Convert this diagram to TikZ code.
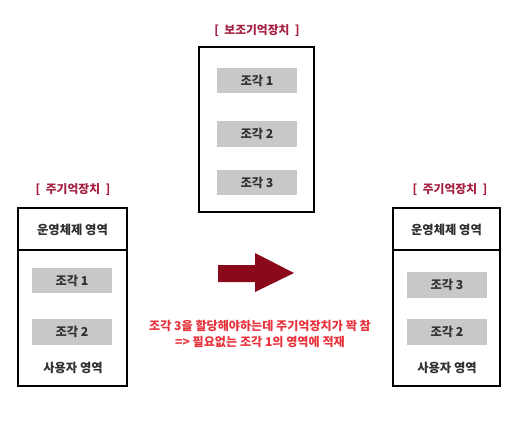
\documentclass[tikz,border=0pt]{standalone}
\usepackage{fontspec}
\newfontfamily\kr{Noto Sans CJK KR}
\definecolor{titlered}{HTML}{A52040}
\definecolor{notered}{HTML}{E8323C}
\definecolor{arrowred}{HTML}{8A0A1C}
\definecolor{piecegray}{HTML}{C8C8C8}
\definecolor{textgray}{HTML}{303030}
\tikzset{
    membox/.style={draw, line width=1.6pt, inner sep=0pt},
    piece/.style={fill=piecegray, minimum width=80pt, minimum height=25.5pt, inner sep=0pt, text=textgray, font=\kr\bfseries\fontsize{12.3}{14}\selectfont},
    areatext/.style={text=textgray, font=\kr\bfseries\fontsize{12.3}{14}\selectfont},
    titletext/.style={text=titlered, font=\kr\bfseries\fontsize{11.8}{14}\selectfont},
    notetext/.style={text=notered, font=\kr\bfseries\fontsize{12.1}{16}\selectfont, align=center}
}
\begin{document}
\begin{tikzpicture}[x=1pt, y=-1pt]
    \useasboundingbox[fill=white] (0,0) rectangle (529,428);

    % secondary storage
    \node (aux) [membox, minimum width=115pt, minimum height=165pt] at (256.5, 129.5) {};
    \node (auxtitle) [titletext] at (257, 31) {[ \ 보조기억장치 \ ]};
    \node (a1) [piece] at (257, 80.5) {조각 1};
    \node (a2) [piece] at (257, 134) {조각 2};
    \node (a3) [piece] at (257, 182.5) {조각 3};

    % main memory, before
    \node (lmtitle) [titletext] at (73, 190) {[ \ 주기억장치 \ ]};
    \node (los) [membox, minimum width=109pt, minimum height=42pt] at (72.5, 229) {};
    \node (lostext) [areatext] at (72.5, 230) {운영체제 영역};
    \node (luser) [membox, minimum width=109pt, minimum height=136pt] at (72.5, 318) {};
    \node (l1) [piece] at (72, 280.5) {조각 1};
    \node (l2) [piece] at (72, 332) {조각 2};
    \node (lusertext) [areatext] at (73, 368) {사용자 영역};

    % main memory, after
    \node (rmtitle) [titletext] at (450, 190) {[ \ 주기억장치 \ ]};
    \node (ros) [membox, minimum width=107pt, minimum height=42pt] at (446.5, 229) {};
    \node (rostext) [areatext] at (446.5, 230) {운영체제 영역};
    \node (ruser) [membox, minimum width=107pt, minimum height=136pt] at (446.5, 318) {};
    \node (r3) [piece] at (447, 285) {조각 3};
    \node (r2) [piece] at (447, 332) {조각 2};
    \node (rusertext) [areatext] at (447, 368) {사용자 영역};

    % swap
    \fill[arrowred] (218,265) -- (255,265) -- (255,253) -- (294,273) -- (255,292) -- (255,282) -- (218,282) -- cycle;
    \node (note) [notetext] at (260, 334) {조각 3을 할당해야하는데 주기억장치가 꽉 참\\=> 필요없는 조각 1의 영역에 적재};
\end{tikzpicture}
\end{document}
